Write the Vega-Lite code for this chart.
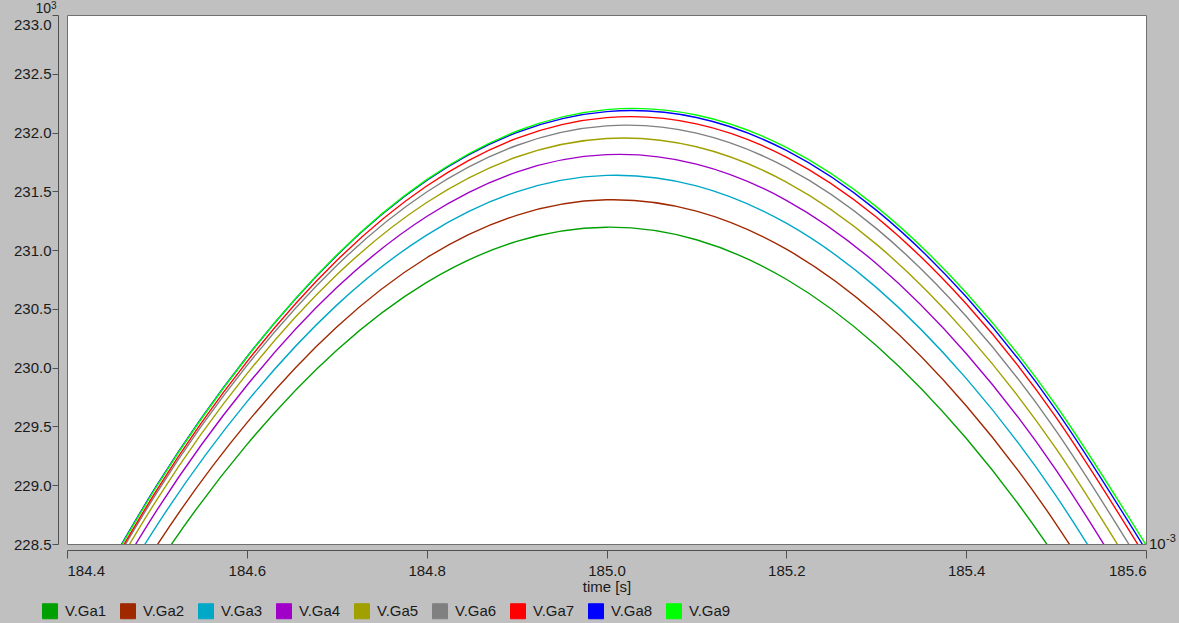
{
  "$schema": "https://vega.github.io/schema/vega-lite/v6.json",
  "autosize": "none",
  "width": 1079,
  "height": 529,
  "padding": {"left": 67, "top": 15, "right": 33, "bottom": 79},
  "background": "#c0c0c0",
  "config": {
    "view": {"fill": "white", "stroke": "#707070", "strokeWidth": 1},
    "font": "Liberation Sans",
    "axis": {"grid": false, "domainColor": "#505050", "tickColor": "#505050", "labelColor": "#1a1a1a", "labelFont": "Liberation Sans", "labelFontSize": 15, "titleFont": "Liberation Sans", "titleFontSize": 15, "titleFontWeight": "normal", "titleColor": "#1a1a1a"},
    "legend": {"labelFont": "Liberation Sans", "labelFontSize": 15, "labelColor": "#1a1a1a"}
  },
  "layer": [
    {
      "data": {"values": [
        {"series": "V.Ga1", "t": 184.4, "v": 227.059}, {"series": "V.Ga1", "t": 184.5, "v": 228.314}, {"series": "V.Ga1", "t": 184.6, "v": 229.345}, {"series": "V.Ga1", "t": 184.7, "v": 230.148}, {"series": "V.Ga1", "t": 184.8, "v": 230.725}, {"series": "V.Ga1", "t": 184.9, "v": 231.074}, {"series": "V.Ga1", "t": 185.0, "v": 231.195}, {"series": "V.Ga1", "t": 185.1, "v": 231.088}, {"series": "V.Ga1", "t": 185.2, "v": 230.752}, {"series": "V.Ga1", "t": 185.3, "v": 230.189}, {"series": "V.Ga1", "t": 185.4, "v": 229.399}, {"series": "V.Ga1", "t": 185.5, "v": 228.382}, {"series": "V.Ga1", "t": 185.6, "v": 227.141},
        {"series": "V.Ga2", "t": 184.4, "v": 227.22}, {"series": "V.Ga2", "t": 184.5, "v": 228.488}, {"series": "V.Ga2", "t": 184.6, "v": 229.53}, {"series": "V.Ga2", "t": 184.7, "v": 230.346}, {"series": "V.Ga2", "t": 184.8, "v": 230.935}, {"series": "V.Ga2", "t": 184.9, "v": 231.296}, {"series": "V.Ga2", "t": 185.0, "v": 231.428}, {"series": "V.Ga2", "t": 185.1, "v": 231.332}, {"series": "V.Ga2", "t": 185.2, "v": 231.008}, {"series": "V.Ga2", "t": 185.3, "v": 230.456}, {"series": "V.Ga2", "t": 185.4, "v": 229.676}, {"series": "V.Ga2", "t": 185.5, "v": 228.67}, {"series": "V.Ga2", "t": 185.6, "v": 227.438},
        {"series": "V.Ga3", "t": 184.4, "v": 227.383}, {"series": "V.Ga3", "t": 184.5, "v": 228.659}, {"series": "V.Ga3", "t": 184.6, "v": 229.709}, {"series": "V.Ga3", "t": 184.7, "v": 230.532}, {"series": "V.Ga3", "t": 184.8, "v": 231.128}, {"series": "V.Ga3", "t": 184.9, "v": 231.496}, {"series": "V.Ga3", "t": 185.0, "v": 231.636}, {"series": "V.Ga3", "t": 185.1, "v": 231.547}, {"series": "V.Ga3", "t": 185.2, "v": 231.229}, {"series": "V.Ga3", "t": 185.3, "v": 230.683}, {"series": "V.Ga3", "t": 185.4, "v": 229.909}, {"series": "V.Ga3", "t": 185.5, "v": 228.909}, {"series": "V.Ga3", "t": 185.6, "v": 227.683},
        {"series": "V.Ga4", "t": 184.4, "v": 227.502}, {"series": "V.Ga4", "t": 184.5, "v": 228.788}, {"series": "V.Ga4", "t": 184.6, "v": 229.848}, {"series": "V.Ga4", "t": 184.7, "v": 230.681}, {"series": "V.Ga4", "t": 184.8, "v": 231.286}, {"series": "V.Ga4", "t": 184.9, "v": 231.664}, {"series": "V.Ga4", "t": 185.0, "v": 231.812}, {"series": "V.Ga4", "t": 185.1, "v": 231.732}, {"series": "V.Ga4", "t": 185.2, "v": 231.424}, {"series": "V.Ga4", "t": 185.3, "v": 230.886}, {"series": "V.Ga4", "t": 185.4, "v": 230.121}, {"series": "V.Ga4", "t": 185.5, "v": 229.129}, {"series": "V.Ga4", "t": 185.6, "v": 227.911},
        {"series": "V.Ga5", "t": 184.4, "v": 227.582}, {"series": "V.Ga5", "t": 184.5, "v": 228.878}, {"series": "V.Ga5", "t": 184.6, "v": 229.947}, {"series": "V.Ga5", "t": 184.7, "v": 230.79}, {"series": "V.Ga5", "t": 184.8, "v": 231.405}, {"series": "V.Ga5", "t": 184.9, "v": 231.792}, {"series": "V.Ga5", "t": 185.0, "v": 231.95}, {"series": "V.Ga5", "t": 185.1, "v": 231.879}, {"series": "V.Ga5", "t": 185.2, "v": 231.579}, {"series": "V.Ga5", "t": 185.3, "v": 231.051}, {"series": "V.Ga5", "t": 185.4, "v": 230.294}, {"series": "V.Ga5", "t": 185.5, "v": 229.311}, {"series": "V.Ga5", "t": 185.6, "v": 228.101},
        {"series": "V.Ga6", "t": 184.4, "v": 227.632}, {"series": "V.Ga6", "t": 184.5, "v": 228.938}, {"series": "V.Ga6", "t": 184.6, "v": 230.017}, {"series": "V.Ga6", "t": 184.7, "v": 230.869}, {"series": "V.Ga6", "t": 184.8, "v": 231.494}, {"series": "V.Ga6", "t": 184.9, "v": 231.89}, {"series": "V.Ga6", "t": 185.0, "v": 232.057}, {"series": "V.Ga6", "t": 185.1, "v": 231.995}, {"series": "V.Ga6", "t": 185.2, "v": 231.704}, {"series": "V.Ga6", "t": 185.3, "v": 231.185}, {"series": "V.Ga6", "t": 185.4, "v": 230.437}, {"series": "V.Ga6", "t": 185.5, "v": 229.462}, {"series": "V.Ga6", "t": 185.6, "v": 228.261},
        {"series": "V.Ga7", "t": 184.4, "v": 227.646}, {"series": "V.Ga7", "t": 184.5, "v": 228.961}, {"series": "V.Ga7", "t": 184.6, "v": 230.049}, {"series": "V.Ga7", "t": 184.7, "v": 230.911}, {"series": "V.Ga7", "t": 184.8, "v": 231.545}, {"series": "V.Ga7", "t": 184.9, "v": 231.95}, {"series": "V.Ga7", "t": 185.0, "v": 232.127}, {"series": "V.Ga7", "t": 185.1, "v": 232.074}, {"series": "V.Ga7", "t": 185.2, "v": 231.792}, {"series": "V.Ga7", "t": 185.3, "v": 231.282}, {"series": "V.Ga7", "t": 185.4, "v": 230.543}, {"series": "V.Ga7", "t": 185.5, "v": 229.577}, {"series": "V.Ga7", "t": 185.6, "v": 228.384},
        {"series": "V.Ga8", "t": 184.4, "v": 227.683}, {"series": "V.Ga8", "t": 184.5, "v": 229.0}, {"series": "V.Ga8", "t": 184.6, "v": 230.091}, {"series": "V.Ga8", "t": 184.7, "v": 230.955}, {"series": "V.Ga8", "t": 184.8, "v": 231.592}, {"series": "V.Ga8", "t": 184.9, "v": 231.999}, {"series": "V.Ga8", "t": 185.0, "v": 232.178}, {"series": "V.Ga8", "t": 185.1, "v": 232.128}, {"series": "V.Ga8", "t": 185.2, "v": 231.848}, {"series": "V.Ga8", "t": 185.3, "v": 231.34}, {"series": "V.Ga8", "t": 185.4, "v": 230.603}, {"series": "V.Ga8", "t": 185.5, "v": 229.639}, {"series": "V.Ga8", "t": 185.6, "v": 228.448},
        {"series": "V.Ga9", "t": 184.4, "v": 227.672}, {"series": "V.Ga9", "t": 184.5, "v": 228.994}, {"series": "V.Ga9", "t": 184.6, "v": 230.089}, {"series": "V.Ga9", "t": 184.7, "v": 230.958}, {"series": "V.Ga9", "t": 184.8, "v": 231.599}, {"series": "V.Ga9", "t": 184.9, "v": 232.011}, {"series": "V.Ga9", "t": 185.0, "v": 232.195}, {"series": "V.Ga9", "t": 185.1, "v": 232.149}, {"series": "V.Ga9", "t": 185.2, "v": 231.874}, {"series": "V.Ga9", "t": 185.3, "v": 231.37}, {"series": "V.Ga9", "t": 185.4, "v": 230.638}, {"series": "V.Ga9", "t": 185.5, "v": 229.678}, {"series": "V.Ga9", "t": 185.6, "v": 228.492}
      ]},
      "mark": {"type": "line", "clip": true, "interpolate": "natural", "strokeWidth": 1.4},
      "encoding": {
        "x": {"field": "t", "type": "quantitative", "scale": {"domain": [184.4, 185.6], "nice": false, "zero": false},
          "axis": {"title": "time [s]", "values": [184.4, 184.6, 184.8, 185.0, 185.2, 185.4, 185.6], "format": ".1f", "offset": 6, "tickSize": 8, "labelPadding": 5, "titlePadding": 1}},
        "y": {"field": "v", "type": "quantitative", "scale": {"domain": [228.5, 233.0], "nice": false, "zero": false},
          "axis": {"title": null,
            "labelBaseline": {"condition": {"test": "datum.value >= 233", "value": "top"}, "value": "middle"},
            "labelOffset": {"condition": {"test": "datum.value >= 233", "value": 2}, "value": 0},
            "values": [228.5, 229.0, 229.5, 230.0, 230.5, 231.0, 231.5, 232.0, 232.5, 233.0], "format": ".1f", "offset": 9, "tickSize": 6, "labelPadding": 1}},
        "color": {"field": "series", "type": "nominal",
          "scale": {"domain": ["V.Ga1", "V.Ga2", "V.Ga3", "V.Ga4", "V.Ga5", "V.Ga6", "V.Ga7", "V.Ga8", "V.Ga9"],
            "range": ["#00a000", "#a02800", "#00a8c8", "#a000c8", "#a0a000", "#808080", "#ff0000", "#0000ff", "#00ff00"]},
          "legend": {"title": null, "orient": "none", "direction": "horizontal", "legendX": -25, "legendY": 588, "symbolType": "square", "symbolSize": 225, "symbolStrokeColor": "#a0a0a0", "symbolStrokeWidth": 1, "symbolFillOpacity": 1, "symbolOpacity": 1, "columnPadding": 11, "symbolOffset": 0, "labelOffset": 7,
            "encode": {"symbols": {"update": {"fill": {"scale": "color", "field": "value"}, "stroke": {"value": "#a0a0a0"}, "strokeWidth": {"value": 1}}}}}}
      }
    },
    {
      "data": {"values": [{"label": "10"}]},
      "mark": {"type": "text", "align": "right", "baseline": "alphabetic", "dx": -16, "dy": -2, "fontSize": 14, "color": "#1a1a1a", "font": "Liberation Sans"},
      "encoding": {"x": {"datum": 184.4}, "y": {"datum": 233.0}, "text": {"field": "label"}}
    },
    {
      "data": {"values": [{"label": "3"}]},
      "mark": {"type": "text", "align": "left", "baseline": "alphabetic", "dx": -16, "dy": -6, "fontSize": 10, "color": "#1a1a1a", "font": "Liberation Sans"},
      "encoding": {"x": {"datum": 184.4}, "y": {"datum": 233.0}, "text": {"field": "label"}}
    },
    {
      "data": {"values": [{"label": "10"}]},
      "mark": {"type": "text", "align": "left", "baseline": "alphabetic", "dx": 3, "dy": 5, "fontSize": 15, "color": "#1a1a1a", "font": "Liberation Sans"},
      "encoding": {"x": {"datum": 185.6}, "y": {"datum": 228.5}, "text": {"field": "label"}}
    },
    {
      "data": {"values": [{"label": "-3"}]},
      "mark": {"type": "text", "align": "left", "baseline": "alphabetic", "dx": 20, "dy": -2, "fontSize": 11, "color": "#1a1a1a", "font": "Liberation Sans"},
      "encoding": {"x": {"datum": 185.6}, "y": {"datum": 228.5}, "text": {"field": "label"}}
    }
  ]
}
